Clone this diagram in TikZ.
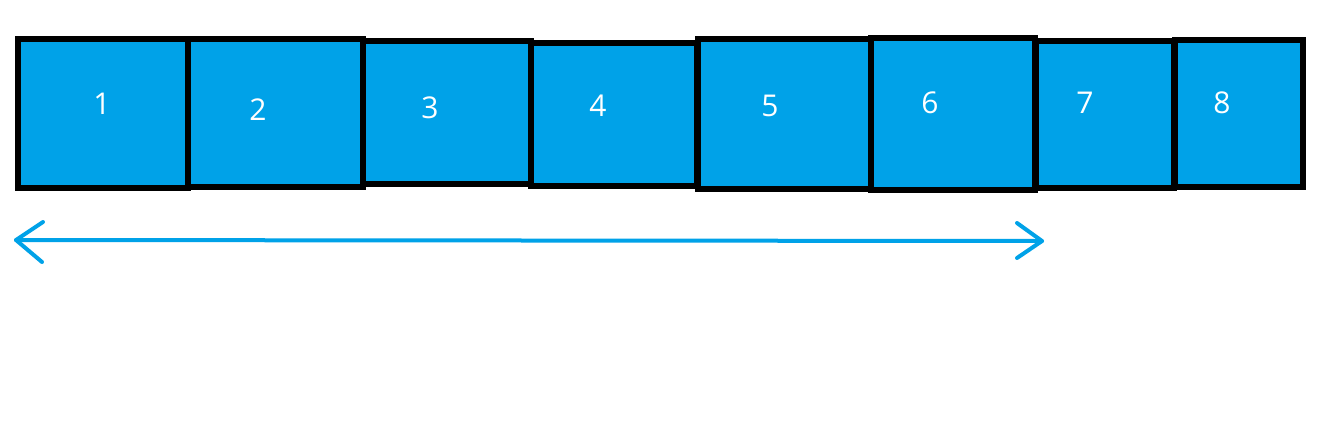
\documentclass[tikz,border=0pt]{standalone}
\usepackage{fontspec}
\setmainfont{Open Sans}
\definecolor{paintblue}{HTML}{00A2E8}
\begin{document}
\begin{tikzpicture}[x=1pt,y=-1pt,
  cell/.style={draw=black, line width=6pt, fill=paintblue, rectangle, inner sep=0pt},
  lbl/.style={text=white, font=\fontsize{30}{30}\selectfont, inner sep=0pt},
  arr/.style={draw=paintblue, line width=4pt, line cap=round, line join=round}]
\useasboundingbox (0,0) rectangle (1327,424);
\node[cell, minimum width=170pt, minimum height=149pt] (b1) at (103,113.5) {};
\node[cell, minimum width=175pt, minimum height=148pt] (b2) at (275.5,113) {};
\node[cell, minimum width=168pt, minimum height=143pt] (b3) at (447,112.5) {};
\node[cell, minimum width=166pt, minimum height=143pt] (b4) at (614,114.5) {};
\node[cell, minimum width=173pt, minimum height=150pt] (b5) at (784.5,114) {};
\node[cell, minimum width=164pt, minimum height=152pt] (b6) at (953,114) {};
\node[cell, minimum width=138pt, minimum height=147pt] (b7) at (1105,114.5) {};
\node[cell, minimum width=128pt, minimum height=147pt] (b8) at (1239,113.5) {};
\node[lbl] (t1) at (102,104) {1};
\node[lbl] (t2) at (258,110) {2};
\node[lbl] (t3) at (430,108) {3};
\node[lbl] (t4) at (598,106) {4};
\node[lbl] (t5) at (770,106) {5};
\node[lbl] (t6) at (930,103) {6};
\node[lbl] (t7) at (1085,103) {7};
\node[lbl] (t8) at (1222,103) {8};
\coordinate (L) at (16,240);
\coordinate (R) at (1042,241);
\coordinate (La) at (43,222);
\coordinate (Lb) at (42,262);
\coordinate (Ra) at (1017,223);
\coordinate (Rb) at (1017,258);
\draw[arr] (L) -- (R);
\draw[arr] (La) -- (L) -- (Lb);
\draw[arr] (Ra) -- (R) -- (Rb);
\end{tikzpicture}
\end{document}
